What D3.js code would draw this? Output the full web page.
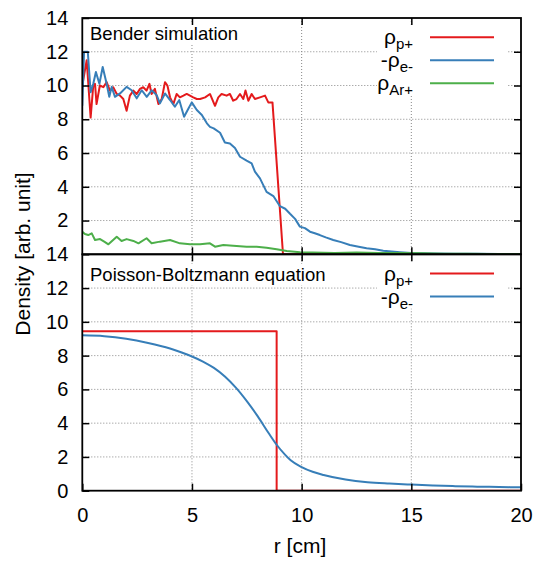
<!DOCTYPE html>
<html><head><meta charset="utf-8">
<script src="https://cdn.jsdelivr.net/npm/d3@7"></script>
<style>body{margin:0;background:#fff} svg{display:block}</style>
</head><body><svg id="c" width="538" height="562"></svg>
<script>
// ---------- data ----------
const xTickValues = [0, 5, 10, 15, 20];
const yTickValuesTop = [2, 4, 6, 8, 10, 12, 14];
const yTickValuesBottom = [0, 2, 4, 6, 8, 10, 12, 14];
const gridXValues = [5, 10, 15];
const gridYValues = [2, 4, 6, 8, 10, 12];
const titleTop = "Bender simulation";
const titleBottom = "Poisson-Boltzmann equation";
const xLabel = "r [cm]";
const yLabel = "Density [arb. unit]";

// Bender simulation: rho_p+
const benderProton = [[0,10.0],[0.2,11.5],[0.38,8.1],[0.5,10.0],[0.58,10.1],[0.65,8.9],[0.8,10.0],[0.96,9.9],[1.11,10.2],[1.26,9.7],[1.41,9.9],[1.57,9.5],[1.72,9.4],[1.87,9.2],[2.02,8.5],[2.17,9.4],[2.33,9.7],[2.48,9.5],[2.63,9.8],[2.78,9.9],[2.93,9.7],[3.06,10.1],[3.16,9.5],[3.31,9.8],[3.47,8.9],[3.62,9.2],[3.77,10.2],[3.88,10.0],[4.0,9.3],[4.15,8.9],[4.3,9.5],[4.45,9.3],[4.61,9.4],[4.76,9.5],[4.91,9.4],[5.06,9.3],[5.22,9.2],[5.37,9.2],[5.6,9.3],[5.82,9.5],[6.05,8.8],[6.2,9.3],[6.35,9.5],[6.58,9.4],[6.73,9.5],[6.88,9.1],[7.03,9.2],[7.19,9.5],[7.34,9.2],[7.44,9.7],[7.57,9.1],[7.72,9.5],[7.87,9.2],[8.1,9.3],[8.33,9.4],[8.48,9.0],[8.67,9.0],[9.15,0],[20,0]];
// Bender simulation: -rho_e-
const benderElectron = [[0,8.8],[0.08,12.0],[0.25,12.0],[0.38,9.6],[0.5,10.1],[0.62,10.8],[0.78,10.1],[0.93,11.1],[1.11,10.1],[1.23,9.33],[1.34,9.92],[1.49,9.33],[1.72,9.53],[2.02,9.92],[2.25,9.72],[2.48,9.24],[2.71,9.72],[2.94,9.33],[3.16,9.72],[3.39,9.43],[3.54,8.94],[3.77,9.53],[4.0,9.14],[4.22,8.74],[4.42,9.14],[4.64,8.15],[4.84,8.64],[4.99,9.0],[5.22,8.55],[5.45,8.25],[5.68,7.76],[5.82,7.55],[5.99,7.46],[6.28,7.2],[6.5,6.62],[6.73,6.57],[6.96,6.3],[7.19,5.78],[7.49,5.55],[7.72,5.39],[7.87,4.9],[8.1,4.5],[8.4,3.7],[8.71,3.45],[9.01,2.85],[9.25,2.7],[9.47,2.4],[9.7,2.1],[9.92,1.64],[10.15,1.55],[10.38,1.34],[10.6,1.25],[10.83,1.14],[11.1,1.0],[11.44,0.85],[11.8,0.72],[12.2,0.55],[12.6,0.45],[12.96,0.36],[13.35,0.3],[13.72,0.21],[14.1,0.16],[14.48,0.12],[15.0,0.08],[16,0.05],[17,0.04],[18,0.03],[19,0.02],[20,0.02]];
// Bender simulation: rho_Ar+
const benderArgon = [[0,1.34],[0.12,1.2],[0.27,1.14],[0.43,1.24],[0.58,0.85],[0.81,0.9],[1.0,0.75],[1.19,0.59],[1.57,1.04],[1.79,0.79],[2.02,0.9],[2.33,0.79],[2.56,0.65],[2.93,0.95],[3.16,0.65],[3.54,0.75],[4.0,0.85],[4.45,0.65],[4.91,0.59],[5.37,0.59],[5.82,0.65],[6.05,0.45],[6.43,0.55],[6.88,0.51],[7.49,0.45],[7.95,0.45],[8.4,0.39],[8.86,0.3],[9.32,0.2],[9.92,0.12],[10.5,0.1],[11.5,0.08],[12.5,0.1],[13.5,0.07],[14.5,0.08],[15.5,0.06],[16.5,0.04],[17.5,0.03],[18.5,0.02],[19.5,0.02],[20,0.02]];
// Poisson-Boltzmann: rho_p+
const pbProton = [[0,9.45],[8.86,9.45],[8.86,0],[20,0]];
// Poisson-Boltzmann: -rho_e-
const pbElectron = [[0,9.2],[1,9.15],[2,9.0],[3,8.75],[4,8.42],[4.5,8.2],[5,7.95],[5.5,7.65],[6,7.27],[6.5,6.76],[7,6.1],[7.5,5.3],[8,4.4],[8.5,3.4],[8.86,2.72],[9.25,2.12],[9.5,1.8],[10,1.4],[10.5,1.12],[11,0.93],[12,0.66],[13,0.5],[14,0.42],[15,0.36],[16,0.31],[17,0.27],[18,0.24],[19,0.22],[20,0.2]];

const colorP = "#e41a1c", colorE = "#377eb8", colorAr = "#4daf4a";

// ---------- layout ----------
const L = 82.3, R = 521, T = 18, M = 254.3, B = 490.7;
const FONT = "'Liberation Sans', Arial, sans-serif";
const svg = d3.select("#c");
svg.append("rect").attr("width", 538).attr("height", 562).attr("fill", "#fff");

const x = d3.scaleLinear().domain([0, 20]).range([L, R]);
const yTop = d3.scaleLinear().domain([0, 14]).range([M, T]);
const yBot = d3.scaleLinear().domain([0, 14]).range([B, M]);

function panel(id, y, series, legend, title, titleBaseline, yTicks, showX) {
  const g = svg.append("g");
  const y0 = y.range()[1], y1 = y.range()[0];
  // grid
  g.append("g").selectAll("line.gy").data(gridYValues).join("line")
    .attr("x1", L).attr("x2", R).attr("y1", d => y(d)).attr("y2", d => y(d))
    .attr("stroke", "#888").attr("stroke-width", 1).attr("stroke-dasharray", "1,2");
  g.append("g").selectAll("line.gx").data(gridXValues).join("line")
    .attr("y1", y0).attr("y2", y1).attr("x1", d => x(d)).attr("x2", d => x(d))
    .attr("stroke", "#888").attr("stroke-width", 1).attr("stroke-dasharray", "1,2");
  // title (opaque)
  const t = g.append("text").attr("x", 90).attr("y", titleBaseline)
    .attr("font-family", FONT).attr("font-size", 18.5).attr("fill", "#000").text(title);
  const bb = t.node().getBBox();
  g.insert("rect", "text").attr("x", bb.x - 2).attr("y", bb.y).attr("width", bb.width + 4).attr("height", bb.height)
    .attr("fill", "#fff");
  // data
  svg.append("clipPath").attr("id", id).append("rect")
    .attr("x", L).attr("y", y0).attr("width", R - L).attr("height", y1 - y0);
  const dg = g.append("g").attr("clip-path", `url(#${id})`);
  series.forEach(s => {
    const line = d3.line().x(d => x(d[0])).y(d => y(d[1]));
    if (s.curve) line.curve(d3.curveMonotoneX);
    dg.append("path").datum(s.data).attr("fill", "none").attr("stroke", s.color)
      .attr("stroke-width", 2).attr("stroke-linejoin", "round").attr("d", line);
  });
  // legend (opaque box)
  const rowY = legend.map((_, i) => y0 + 19.3 + i * 23);
  g.append("rect").attr("x", 377).attr("y", rowY[0] - 12).attr("width", 130)
    .attr("height", rowY[rowY.length - 1] - rowY[0] + 24).attr("fill", "#fff");
  legend.forEach((it, i) => {
    const ty = rowY[i];
    const tx = g.append("text").attr("x", 413).attr("y", ty + 7).attr("text-anchor", "end")
      .attr("font-family", FONT).attr("font-size", 21).attr("fill", "#000");
    tx.append("tspan").text(it.main);
    tx.append("tspan").attr("dy", 5).attr("font-size", 15).text(it.sub);
    g.append("line").attr("x1", 430).attr("x2", 494).attr("y1", ty).attr("y2", ty)
      .attr("stroke", it.color).attr("stroke-width", 2);
  });
  // axes (inward ticks, mirrored)
  const styleAxis = a => {
    a.select(".domain").remove();
    a.selectAll(".tick line").attr("stroke", "#000").attr("stroke-width", 1.5);
    a.selectAll("text").attr("font-family", FONT).attr("font-size", 20).attr("fill", "#000");
  };
  g.append("g").attr("transform", `translate(${L},0)`)
    .call(d3.axisLeft(y).tickValues(yTicks).tickSize(-7).tickSizeOuter(0).tickPadding(14)).call(styleAxis);
  g.append("g").attr("transform", `translate(${R},0)`)
    .call(d3.axisRight(y).tickValues(gridYValues).tickSize(-7).tickSizeOuter(0).tickFormat("")).call(styleAxis);
  g.append("g").attr("transform", `translate(0,${y0})`)
    .call(d3.axisTop(x).tickValues(gridXValues).tickSize(-7).tickSizeOuter(0).tickFormat("")).call(styleAxis);
  g.append("g").attr("transform", `translate(0,${y1})`)
    .call(d3.axisBottom(x).tickValues(showX ? xTickValues : gridXValues).tickSize(-7).tickSizeOuter(0).tickPadding(17)
      .tickFormat(showX ? d3.format("d") : "")).call(styleAxis);
  // border
  g.append("rect").attr("x", L).attr("y", y0).attr("width", R - L).attr("height", y1 - y0)
    .attr("fill", "none").attr("stroke", "#000").attr("stroke-width", 1.8);
}

panel("clipTop", yTop,
  [{data: benderProton, color: colorP}, {data: benderElectron, color: colorE}, {data: benderArgon, color: colorAr}],
  [{main: "\u03C1", sub: "p+", color: colorP}, {main: "-\u03C1", sub: "e-", color: colorE}, {main: "\u03C1", sub: "Ar+", color: colorAr}],
  titleTop, 39.5, yTickValuesTop, false);

panel("clipBot", yBot,
  [{data: pbProton, color: colorP}, {data: pbElectron, color: colorE, curve: true}],
  [{main: "\u03C1", sub: "p+", color: colorP}, {main: "-\u03C1", sub: "e-", color: colorE}],
  titleBottom, 281, yTickValuesBottom, true);

// axis labels
svg.append("text").attr("transform", "translate(29.5,254) rotate(-90)").attr("text-anchor", "middle")
  .attr("font-family", FONT).attr("font-size", 21).attr("fill", "#000").text(yLabel);
svg.append("text").attr("x", 300).attr("y", 553).attr("text-anchor", "middle")
  .attr("font-family", FONT).attr("font-size", 21).attr("fill", "#000").text(xLabel);
</script>
</body></html>
